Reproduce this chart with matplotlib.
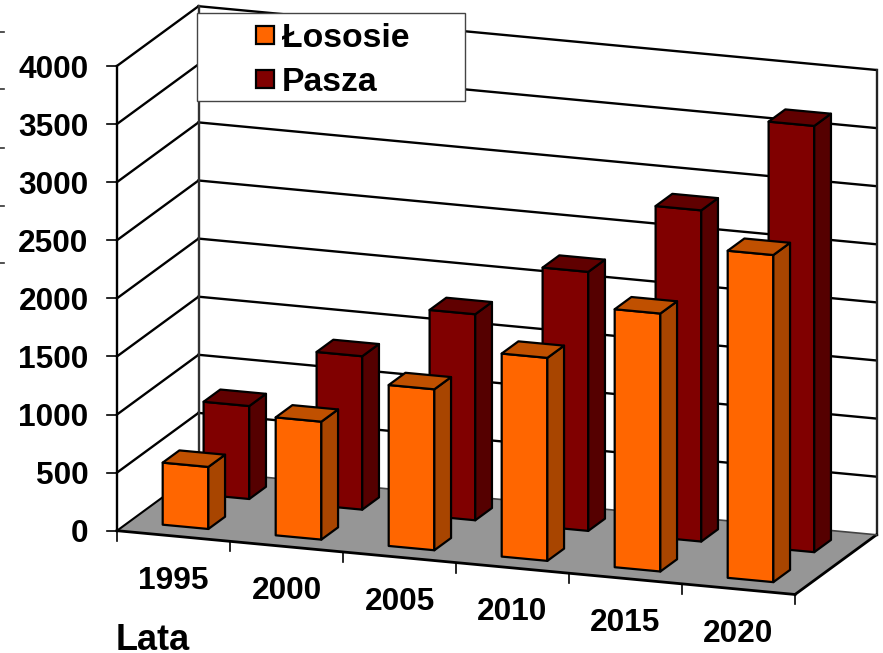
import matplotlib
matplotlib.use("Agg")
import matplotlib.pyplot as plt
from matplotlib.patches import Polygon, Rectangle

years = ["1995", "2000", "2005", "2010", "2015", "2020"]
losos = [534, 1015, 1385, 1747, 2220, 2815]
pasza = [800, 1320, 1773, 2229, 2850, 3668]
value_ticks = [0, 500, 1000, 1500, 2000, 2500, 3000, 3500, 4000]
series_names = ["Łososie", "Pasza"]

FONT = "Liberation Sans"
C_ORANGE = ("#FF6600", "#A84500", "#C05000")
C_MAROON = ("#800000", "#550000", "#600000")
LW = 1.7


def proj(c, d, v):
    """category position, depth (0 front, 1 back), value -> picture coordinates"""
    return (117 + 113 * c + 81.5 * d, 530.7 + 10.63 * c - 59.7 * d - 0.1162 * v)


fig = plt.figure(figsize=(8.83, 6.53), dpi=100)
ax = fig.add_axes([0, 0, 1, 1])
ax.set_xlim(0, 883)
ax.set_ylim(653, 0)
ax.axis("off")
n = len(years)


def line(p, q, lw=LW, color="black", z=2):
    ax.plot([p[0], q[0]], [p[1], q[1]], color=color, lw=lw, zorder=z, solid_capstyle="projecting")


# walls
for v in value_ticks[1:]:
    line(proj(0, 0, v), proj(0, 1, v))
    line(proj(0, 1, v), proj(n, 1, v))
top = value_ticks[-1]
line(proj(0, 0, 0), proj(0, 0, top))
line(proj(0, 1, 0), proj(0, 1, top), color="#333333")
line(proj(n, 1, 0), proj(n, 1, top), color="#222222")

# floor
ax.add_patch(Polygon([proj(0, 0, 0), proj(n, 0, 0), proj(n, 1, 0), proj(0, 1, 0)],
                     closed=True, fc="#969696", ec="none", zorder=3))
line(proj(0, 0, 0), proj(n, 0, 0), lw=2, z=4)
line(proj(n, 0, 0), proj(n, 1, 0), lw=2, z=4)
line(proj(0, 0, 0), proj(0, 1, 0), lw=1.5, z=4)
line(proj(0, 1, 0), proj(n, 1, 0), lw=1.2, color="#444444", z=4)

# ticks
for v in value_ticks:
    x, y = proj(0, 0, v)
    line((x - 10, y), (x, y), lw=1.2)
    ax.text(88.5, y + 0.3, str(v), ha="right", va="center_baseline", fontsize=22.8,
            fontweight="bold", family=FONT, zorder=6)
for i in range(n + 1):
    x, y = proj(i, 0, 0)
    line((x, y), (x, y + 10), lw=1.2)
for i, yr in enumerate(years):
    x, y = proj(i + 0.5, 0, 0)
    ax.text(x, y + 41, yr, ha="center", va="center_baseline", fontsize=22.8,
            fontweight="bold", family=FONT, zorder=6)

ax.text(115.5, 637, "Lata", ha="left", va="center_baseline", fontsize=26,
        fontweight="bold", family=FONT, zorder=6)


def bar(i, d0, d1, value, colors, z):
    c0, c1 = i + 0.294, i + 0.698
    front = [proj(c0, d0, 0), proj(c1, d0, 0), proj(c1, d0, value), proj(c0, d0, value)]
    side = [proj(c1, d0, 0), proj(c1, d1, 0), proj(c1, d1, value), proj(c1, d0, value)]
    cap = [proj(c0, d0, value), proj(c1, d0, value), proj(c1, d1, value), proj(c0, d1, value)]
    for pts, col in zip((front, side, cap), colors):
        ax.add_patch(Polygon(pts, closed=True, fc=col, ec="black", lw=1.6,
                             joinstyle="round", zorder=z))


for i, v in enumerate(pasza):
    bar(i, 0.655, 0.86, v, C_MAROON, 5)
for i, v in enumerate(losos):
    bar(i, 0.153, 0.358, v, C_ORANGE, 5.5)

# legend
ax.add_patch(Rectangle((197, 13), 268, 88, fc="white", ec="#444444", lw=1, zorder=7))
for name, col, y in zip(series_names, (C_ORANGE[0], C_MAROON[0]), (35, 79)):
    ax.add_patch(Rectangle((255.5, y - 9), 18, 18, fc=col, ec="black", lw=1.6, zorder=8))
    ax.text(282, y, name, ha="left", va="center_baseline", fontsize=24.3,
            fontweight="bold", family=FONT, zorder=8)

# cropped remnants of a tick column at the left edge
for y in (32, 89, 148, 206, 263):
    ax.plot([0, 3.5], [y, y], color="#333333", lw=1.2, zorder=2)

fig.savefig("out.png", dpi=100, facecolor="white")
